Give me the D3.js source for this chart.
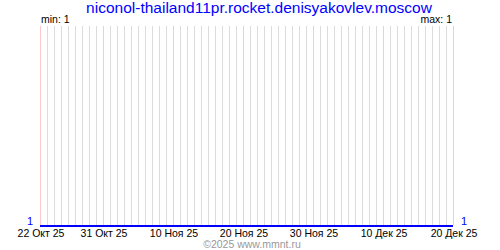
<!DOCTYPE html>
<html>
<head>
<meta charset="utf-8">
<script src="https://cdn.jsdelivr.net/npm/d3@7"></script>
<style>
  body { margin: 0; background: #fff; }
  text { font-family: "Liberation Sans", Arial, sans-serif; }
</style>
</head>
<body>
<div id="chart"></div>
<script>
(function(){
    const title = "niconol-thailand11pr.rocket.denisyakovlev.moscow";
    const startDay = "2025-10-22";
    const endDay = "2025-12-20";
    // one value per day, 22 Oct .. 20 Dec
    const values = [
        1,1,1,1,1,1,1,1,1,1, 1,1,1,1,1,1,1,1,1,1,
        1,1,1,1,1,1,1,1,1,1, 1,1,1,1,1,1,1,1,1,1,
        1,1,1,1,1,1,1,1,1,1, 1,1,1,1,1,1,1,1,1,1
    ];
    const tickDays = ["2025-10-22", "2025-10-31", "2025-11-10", "2025-11-20", "2025-11-30", "2025-12-10", "2025-12-20"];
    const tickLabels = ["22 Окт 25", "31 Окт 25", "10 Ноя 25", "20 Ноя 25", "30 Ноя 25", "10 Дек 25", "20 Дек 25"];

    const width = 500, height = 250;
    const margin = {top: 26, right: 47, bottom: 25, left: 40};

    const parse = d3.timeParse("%Y-%m-%d");
    const days = d3.timeDay.range(parse(startDay), d3.timeDay.offset(parse(endDay), 1));
    const data = days.map((d, i) => ({date: d, value: values[i]}));

    const svg = d3.select("#chart").append("svg")
        .attr("width", width)
        .attr("height", height);

    const x = d3.scaleTime()
        .domain([parse(startDay), parse(endDay)])
        .range([margin.left, width - margin.right]);

    const minV = d3.min(values), maxV = d3.max(values);
    const y = d3.scaleLinear()
        .domain([minV, maxV > minV ? maxV : minV + 1])
        .range([height - margin.bottom, margin.top]);

    // daily grid
    svg.append("g").selectAll("line")
        .data(days)
        .enter().append("line")
        .attr("x1", d => Math.round(x(d)) + 0.5)
        .attr("x2", d => Math.round(x(d)) + 0.5)
        .attr("y1", margin.top)
        .attr("y2", height - margin.bottom)
        .attr("stroke", "#dcdcdc");

    // marked days
    svg.append("g").selectAll("line")
        .data(tickDays)
        .enter().append("line")
        .attr("x1", d => Math.round(x(parse(d))) + 0.5)
        .attr("x2", d => Math.round(x(parse(d))) + 0.5)
        .attr("y1", margin.top)
        .attr("y2", height - margin.bottom)
        .attr("stroke", "#ffc8c8");

    // series
    const line = d3.line()
        .x(d => x(d.date))
        .y(d => y(d.value) + 1);
    svg.append("path")
        .datum(data)
        .attr("fill", "none")
        .attr("stroke", "#0000ff")
        .attr("stroke-width", 2)
        .attr("d", line);

    // x labels
    svg.append("g").selectAll("text")
        .data(tickDays)
        .enter().append("text")
        .attr("x", d => x(parse(d)) + 1)
        .attr("y", 237)
        .attr("text-anchor", "middle")
        .attr("font-size", "10.5px")
        .attr("fill", "#000")
        .text((d, i) => tickLabels[i]);

    // end values
    svg.append("text")
        .attr("x", margin.left - 7)
        .attr("y", 225)
        .attr("text-anchor", "end")
        .attr("font-size", "11px")
        .attr("fill", "#0000ff")
        .text(values[0]);
    svg.append("text")
        .attr("x", width - margin.right + 8)
        .attr("y", 225)
        .attr("text-anchor", "start")
        .attr("font-size", "11px")
        .attr("fill", "#0000ff")
        .text(values[values.length - 1]);

    svg.append("text")
        .attr("x", margin.left + 1)
        .attr("y", 23)
        .attr("font-size", "10.5px")
        .text("min: " + minV);
    svg.append("text")
        .attr("x", width - margin.right - 1)
        .attr("y", 23)
        .attr("text-anchor", "end")
        .attr("font-size", "10.5px")
        .text("max: " + maxV);

    svg.append("text")
        .attr("x", 259)
        .attr("y", 12.5)
        .attr("text-anchor", "middle")
        .attr("font-size", "15.5px")
        .attr("fill", "#0000ff")
        .text(title);

    svg.append("text")
        .attr("x", 252)
        .attr("y", 248)
        .attr("text-anchor", "middle")
        .attr("font-size", "10.5px")
        .attr("fill", "#999")
        .text("©2025 www.mmnt.ru");
})();
</script>
</body>
</html>
